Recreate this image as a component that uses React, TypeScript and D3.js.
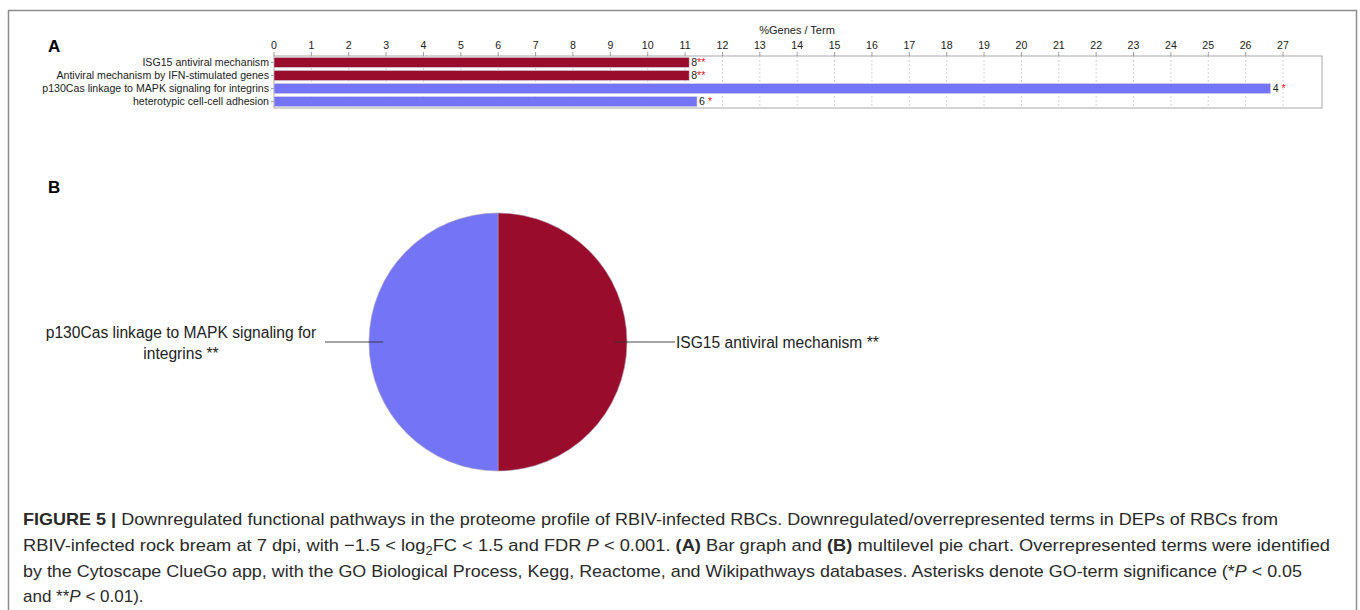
import React from "react";
import * as d3 from "d3";

// Enriched terms (bar graph)
const terms = [
  "ISG15 antiviral mechanism",
  "Antiviral mechanism by IFN-stimulated genes",
  "p130Cas linkage to MAPK signaling for integrins",
  "heterotypic cell-cell adhesion",
];
const percentGenes = [11.11, 11.11, 26.67, 11.32];
const geneCounts = [8, 8, 4, 6];
const significance = ["**", "**", "*", "*"];
const termGroup = [0, 0, 1, 1];
const xTicks = d3.range(0, 28);

// Groups (pie chart)
const groupNames = ["ISG15 antiviral mechanism **", "p130Cas linkage to MAPK signaling for integrins **"];
const groupTermCounts = [2, 2];
const groupColors = ["#9a0c2b", "#7474f7"];

const FONT = "'Liberation Sans', Arial, sans-serif";
const CAP_FONT = "'Liberation Sans Narrow', 'Liberation Sans', Arial, sans-serif";

export default function App() {
  const W = 1360, H = 610;
  const plot = { left: 274, right: 1322, top: 56, bottom: 108 };
  const x = d3.scaleLinear().domain([0, 27]).range([274, 1283]);
  const y = d3.scaleBand<number>().domain(d3.range(terms.length)).range([plot.top, plot.bottom]).paddingInner(0.22).paddingOuter(0.1);

  const cx = 498, cy = 342, r = 129;
  const pie = d3.pie<number>().sort(null).value((d) => d)(groupTermCounts);
  const arc = d3.arc<d3.PieArcDatum<number>>().innerRadius(0).outerRadius(r);

  const smallFs = 10.6;

  return (
    <svg width={W} height={H} style={{ position: "absolute", left: 0, top: 0, background: "#fff" }}>
      {/* figure frame */}
      <path d={`M8.5,${H} V10.5 H1356.5 V${H}`} fill="none" stroke="#8c8c8c" strokeWidth={1.5} />

      {/* panel A */}
      <text x={48} y={52} fontFamily={FONT} fontWeight="bold" fontSize={17}>A</text>
      <text x={797} y={34} textAnchor="middle" fontFamily={FONT} fontSize={11} fill="#222">%Genes / Term</text>
      <rect x={plot.left} y={plot.top} width={plot.right - plot.left} height={plot.bottom - plot.top} fill="#fff" stroke="#a8a8a8" strokeWidth={1} />
      {xTicks.map((t) => (
        <g key={t}>
          {t > 0 && (
            <line x1={x(t)} x2={x(t)} y1={plot.top} y2={plot.bottom} stroke="#c8c8c8" strokeDasharray="2,2" strokeWidth={0.8} />
          )}
          <line x1={x(t)} x2={x(t)} y1={plot.top - 4} y2={plot.top} stroke="#888" strokeWidth={0.8} />
          <text x={x(t)} y={plot.top - 7} textAnchor="middle" fontFamily={FONT} fontSize={smallFs} fill="#222">{t}</text>
        </g>
      ))}
      {terms.map((name, i) => {
        const by = y(i)!;
        const bh = y.bandwidth();
        const c = groupColors[termGroup[i]];
        return (
          <g key={name}>
            <line x1={plot.left - 3} x2={plot.left} y1={by + bh / 2} y2={by + bh / 2} stroke="#888" strokeWidth={0.8} />
            <text x={plot.left - 5} y={by + bh / 2 + 3.6} textAnchor="end" fontFamily={FONT} fontSize={smallFs} fill="#222">{name}</text>
            <rect x={x(0)} y={by} width={x(percentGenes[i]) - x(0)} height={bh} fill={c} stroke="#d8d8e8" strokeWidth={0.6} />
            <text x={x(percentGenes[i]) + 2} y={by + bh / 2 + 3.6} fontFamily={FONT} fontSize={smallFs} fill="#222">
              {geneCounts[i]}
              <tspan fill="#e02020" dx={significance[i] === "*" ? 3 : 0}>{significance[i]}</tspan>
            </text>
          </g>
        );
      })}

      {/* panel B */}
      <text x={48} y={193} fontFamily={FONT} fontWeight="bold" fontSize={17}>B</text>
      <g transform={`translate(${cx},${cy})`}>
        {pie.map((p, i) => (
          <path key={i} d={arc(p)!} fill={groupColors[i]} stroke="#b0a0b8" strokeWidth={0.6} />
        ))}
      </g>
      <line x1={cx + 0.9 * r} x2={cx + r + 48} y1={cy} y2={cy} stroke="#333" strokeWidth={0.9} />
      <text x={cx + r + 49} y={cy + 5.5} fontFamily={FONT} fontSize={15.6} fill="#222">{groupNames[0]}</text>
      <line x1={cx - 0.89 * r} x2={cx - r - 44} y1={cy} y2={cy} stroke="#333" strokeWidth={0.9} />
      <text x={181} y={338} textAnchor="middle" fontFamily={FONT} fontSize={15.6} fill="#222">p130Cas linkage to MAPK signaling for</text>
      <text x={181} y={359} textAnchor="middle" fontFamily={FONT} fontSize={15.6} fill="#222">integrins **</text>

      {/* caption */}
      <g fontFamily={CAP_FONT} fontSize={17} fill="#2a2a2a">
        <text x={23} y={525} textLength={1255} lengthAdjust="spacingAndGlyphs">
          <tspan fontWeight="bold">FIGURE 5 |</tspan> Downregulated functional pathways in the proteome profile of RBIV-infected RBCs. Downregulated/overrepresented terms in DEPs of RBCs from
        </text>
        <text x={23} y={551} textLength={1307} lengthAdjust="spacingAndGlyphs">
          RBIV-infected rock bream at 7 dpi, with −1.5 {"<"} log<tspan dy={4} fontSize={12}>2</tspan><tspan dy={-4}>FC {"<"} 1.5 and FDR </tspan><tspan fontStyle="italic">P</tspan> {"<"} 0.001. <tspan fontWeight="bold">(A)</tspan> Bar graph and <tspan fontWeight="bold">(B)</tspan> multilevel pie chart. Overrepresented terms were identified
        </text>
        <text x={23} y={577} textLength={1279} lengthAdjust="spacingAndGlyphs">
          by the Cytoscape ClueGo app, with the GO Biological Process, Kegg, Reactome, and Wikipathways databases. Asterisks denote GO-term significance (*<tspan fontStyle="italic">P</tspan> {"<"} 0.05
        </text>
        <text x={23} y={602}>
          and **<tspan fontStyle="italic">P</tspan> {"<"} 0.01).
        </text>
      </g>
    </svg>
  );
}
